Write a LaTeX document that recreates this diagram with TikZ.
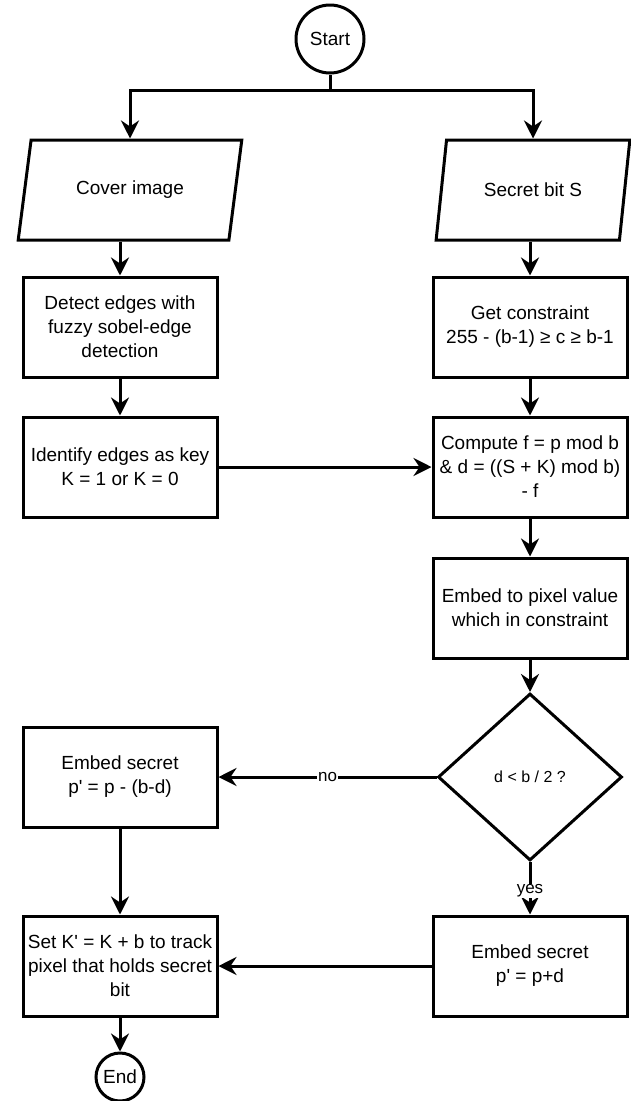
\documentclass[tikz,border=0pt]{standalone}
\usepackage{fontspec}
\setmainfont{Liberation Sans}
\usetikzlibrary{arrows.meta,shapes.geometric}
\newcommand{\sq}{\textquotesingle}

\begin{document}
\begin{tikzpicture}[x=1pt, y=-1pt, line width=3pt,
		every node/.style={font=\fontsize{19}{24}\selectfont, align=center},
		procbox/.style={draw, rectangle, minimum width=194pt, minimum height=100pt, inner sep=2pt},
		iobox/.style={draw, trapezium, trapezium left angle=73, trapezium right angle=107, trapezium stretches=true, minimum height=100pt},
		termnode/.style={draw, circle, inner sep=0pt},
		decision/.style={draw, diamond, minimum width=184pt, minimum height=167pt, inner sep=0pt, font=\fontsize{16}{19}\selectfont},
		flow/.style={-{Stealth[length=18pt, width=18pt, inset=6pt]}},
		tag/.style={fill=white, inner sep=1pt, font=\fontsize{17}{20}\selectfont}]
		%%%%% START %%%%%
		
		\useasboundingbox (0, 0) rectangle (630, 1101);
		
		\node[termnode, minimum size=68pt] (start) at (330, 39) {Start};
		\coordinate (fork) at (330, 90);
		
		\node[iobox, minimum width=224pt] (cover) at (130, 190) {Cover image};
		\node[iobox, minimum width=194pt] (secret) at (533, 190) {Secret bit S};
		
		\node[procbox] (detect) at (120, 327) {Detect edges with\\fuzzy sobel-edge\\detection};
		\node[procbox] (identify) at (120, 467) {Identify edges as key\\K = 1 or K = 0};
		
		\node[procbox] (constraint) at (530, 327) {Get constraint\\255 - (b-1) ≥ c ≥ b-1};
		\node[procbox] (compute) at (530, 467) {Compute f = p mod b\\\& d = ((S + K) mod b)\\- f};
		\node[procbox] (embedpix) at (530, 608) {Embed to pixel value\\which in constraint};
		\node[decision] (check) at (530, 777) {d < b / 2 ?};
		
		\node[procbox] (embedsub) at (120, 777) {Embed secret\\p\sq{} = p - (b-d)};
		\node[procbox] (embedadd) at (530, 966) {Embed secret\\p\sq{} = p+d};
		\node[procbox] (track) at (120, 966) {Set K\sq{} = K + b to track\\pixel that holds secret\\bit};
		
		\node[termnode, minimum size=48pt] (finish) at (120, 1077) {End};
		
		\draw (start) -- (fork);
		\draw[flow] (fork) -| (cover.north);
		\draw[flow] (fork) -| (secret.north);
		
		\draw[flow] (cover.south -| detect.north) -- (detect);
		\draw[flow] (detect) -- (identify);
		\draw[flow] (identify) -- (compute);
		
		\draw[flow] (secret.south -| constraint.north) -- (constraint);
		\draw[flow] (constraint) -- (compute);
		\draw[flow] (compute) -- (embedpix);
		\draw[flow] (embedpix) -- (check);
		
		\draw[flow] (check) -- node[tag] {no} (embedsub);
		\draw[flow] (check) -- node[tag, pos=0.55] {yes} (embedadd);
		\draw[flow] (embedadd) -- (track);
		\draw[flow] (embedsub) -- (track);
		\draw[flow] (track) -- (finish);
		
		%%%%% END %%%%%
	\end{tikzpicture}
\end{document}
